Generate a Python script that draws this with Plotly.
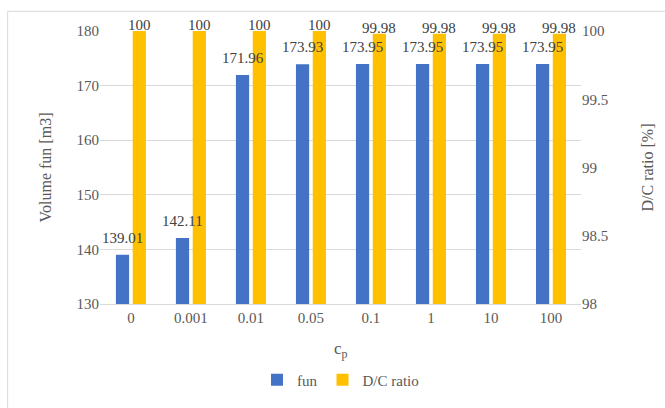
import plotly.graph_objects as go

# Penalty coefficient c_p and the resulting volume / demand-capacity ratio
cp_labels = ["0", "0.001", "0.01", "0.05", "0.1", "1", "10", "100"]
volume_fun = [139.01, 142.11, 171.96, 173.93, 173.95, 173.95, 173.95, 173.95]
dc_ratio = [100, 100, 100, 100, 99.98, 99.98, 99.98, 99.98]

BLUE = "#4472C4"
GOLD = "#FFC000"
TEXT = "#404040"
TICK = "#595959"
GRID = "#D9D9D9"
FONT = "Liberation Serif, Times New Roman, DejaVu Serif, serif"

BAR_W = 0.22
OFF_FUN = -0.25
OFF_DC = 0.03

fig = go.Figure()

fig.add_trace(go.Bar(
    x=cp_labels, y=volume_fun, name="fun",
    marker=dict(color=BLUE, line=dict(width=0)),
    width=BAR_W, offset=OFF_FUN, yaxis="y",
))
fig.add_trace(go.Bar(
    x=cp_labels, y=dc_ratio, name="D/C ratio",
    marker=dict(color=GOLD, line=dict(width=0)),
    width=BAR_W, offset=OFF_DC, yaxis="y2",
))

# Value labels as annotations so they sit above both bar layers
# (category positions given by index, since the labels look numeric)
labels = []
for vals, yref, off, lift in ((volume_fun, "y", OFF_FUN, 7),
                              (dc_ratio, "y2", OFF_DC, -4)):
    for i, v in enumerate(vals):
        labels.append(dict(
            x=i + off + BAR_W / 2, y=v, xref="x", yref=yref, text=f"{v:g}",
            xanchor="center", yanchor="bottom", showarrow=False, yshift=lift,
            font=dict(family=FONT, size=15, color=TEXT),
        ))

labels.append(dict(
    text="c<sub>p</sub>", xref="paper", yref="paper", x=0.5, y=-0.17,
    xanchor="center", yanchor="middle", showarrow=False,
    font=dict(family=FONT, size=17, color=TICK),
))

fig.update_layout(
    width=665, height=408,
    margin=dict(l=100, r=77, t=31, b=100),
    paper_bgcolor="white", plot_bgcolor="white",
    font=dict(family=FONT, size=15, color=TICK),
    barmode="overlay",
    showlegend=True,
    legend=dict(
        orientation="h", x=0.5, xanchor="center", y=-0.278, yanchor="middle",
        font=dict(family=FONT, size=15, color=TICK),
        itemwidth=30, traceorder="normal",
    ),
    xaxis=dict(
        type="category", categoryorder="array", categoryarray=cp_labels,
        showgrid=False, showline=True, linecolor=GRID,
        linewidth=1, ticks="", tickfont=dict(family=FONT, size=15, color=TICK),
    ),
    yaxis=dict(
        range=[130, 180], dtick=10, showgrid=True, gridcolor=GRID,
        zeroline=False, showline=False, ticks="",
        tickfont=dict(family=FONT, size=15, color=TICK),
        title=dict(text="Volume fun [m3]", standoff=20,
                   font=dict(family=FONT, size=16, color=TICK)),
    ),
    yaxis2=dict(
        range=[98, 100], dtick=0.5, overlaying="y", side="right",
        showgrid=False, zeroline=False, showline=False, ticks="",
        tickfont=dict(family=FONT, size=15, color=TICK),
        title=dict(text="D/C ratio [%]", standoff=34,
                   font=dict(family=FONT, size=16, color=TICK)),
    ),
    annotations=labels,
    shapes=[dict(
        type="rect", xref="paper", yref="paper",
        x0=-0.192, x1=1.3, y0=-0.6, y1=1.072,
        line=dict(color=GRID, width=1), fillcolor="rgba(0,0,0,0)", layer="below",
    )],
)

fig.write_html("out.html")
